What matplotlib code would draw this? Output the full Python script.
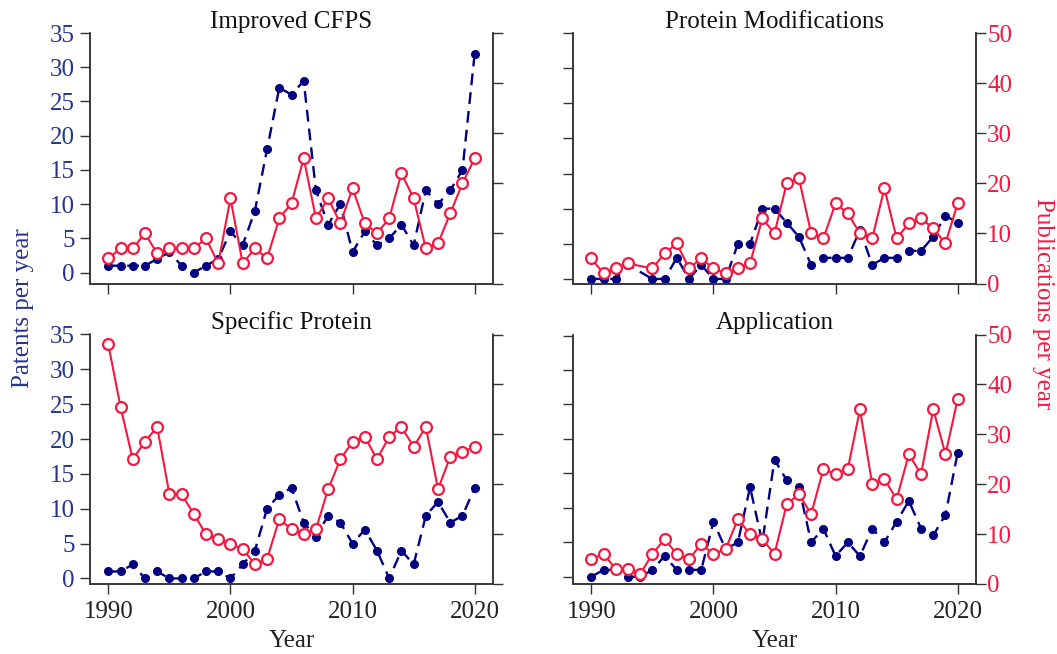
import matplotlib
matplotlib.use('Agg')
import matplotlib.pyplot as plt

plt.rcParams['font.family'] = ['Liberation Serif', 'DejaVu Serif']

# ---------------- data ----------------
years = list(range(1990, 2021))
years_mod = [y for y in years if y != 1994]

cfps_patents = [1, 1, 1, 1, 2, 3, 1, 0, 1, 2,
                6, 4, 9, 18, 27, 26, 28, 12, 7, 10,
                3, 6, 4, 5, 7, 4, 12, 10, 12, 15, 32]
cfps_pubs = [5, 7, 7, 10, 6, 7, 7, 7, 9, 4,
             17, 4, 7, 5, 13, 16, 25, 13, 17, 12,
             19, 12, 10, 13, 22, 17, 7, 8, 14, 20, 25]

mod_patents = [0, 0, 0, 2, 0, 0, 3, 0, 2,
               0, 0, 5, 5, 10, 10, 8, 6, 2, 3,
               3, 3, 7, 2, 3, 3, 4, 4, 6, 9, 8]
mod_pubs = [5, 2, 3, 4, 3, 6, 8, 3, 5,
            3, 2, 3, 4, 13, 10, 20, 21, 10, 9,
            16, 14, 10, 9, 19, 9, 12, 13, 11, 8, 16]

spec_patents = [1, 1, 2, 0, 1, 0, 0, 0, 1, 1,
                0, 2, 4, 10, 12, 13, 8, 6, 9, 8,
                5, 7, 4, 0, 4, 2, 9, 11, 8, 9, 13]
spec_pubs = [48, 35.5, 25, 28.5, 31.5, 18, 18, 14, 10, 9,
             8, 7, 4, 5, 13, 11, 10, 11, 19, 25,
             28.5, 29.5, 25, 29.5, 31.5, 27.5, 31.5, 19, 25.5, 26.5, 27.5]

app_patents = [0, 1, 1, 0, 0, 1, 3, 1, 1, 1,
               8, 4, 5, 13, 5, 17, 14, 13, 5, 7,
               3, 5, 3, 7, 5, 8, 11, 7, 6, 9, 18]
app_pubs = [5, 6, 3, 3, 2, 6, 9, 6, 5, 8,
            6, 7, 13, 10, 9, 6, 16, 18, 14, 23,
            22, 23, 35, 20, 21, 17, 26, 22, 35, 26, 37]

titles = ["Improved CFPS", "Protein Modifications", "Specific Protein", "Application"]
x_ticks = [1990, 2000, 2010, 2020]
left_ticks = [0, 5, 10, 15, 20, 25, 30, 35]
right_ticks = [0, 10, 20, 30, 40, 50]

# ---------------- style ----------------
W, H = 1057, 654
BLUE = '#000080'
BLUE_TXT = '#27348B'
RED = '#F5173F'
SPINE = '#333333'
FS = 18

fig = plt.figure(figsize=(W / 100, H / 100), dpi=100)


def rect(l, r, t, b):
    return [l / W, 1 - b / H, (r - l) / W, (b - t) / H]


panels = [
    dict(pos=rect(90, 493, 33, 283.5), x=years, pat=cfps_patents, pub=cfps_pubs,
         ylim=(-1.6, 34.95), title=titles[0], row=0, col=0),
    dict(pos=rect(573, 976, 33, 283.5), x=years_mod, pat=mod_patents, pub=mod_pubs,
         ylim=(-0.65, 34.9), title=titles[1], row=0, col=1),
    dict(pos=rect(90, 493, 334.5, 584), x=years, pat=spec_patents, pub=spec_pubs,
         ylim=(-0.8, 34.85), title=titles[2], row=1, col=0),
    dict(pos=rect(573, 976, 334.5, 584), x=years, pat=app_patents, pub=app_pubs,
         ylim=(-1.05, 35.15), title=titles[3], row=1, col=1),
]

for p in panels:
    ax = fig.add_axes(p['pos'])
    ax2 = ax.twinx()
    ax.set_zorder(1)
    ax2.set_zorder(2)
    ax.patch.set_visible(False)
    ax2.patch.set_visible(False)

    ax.plot(p['x'], p['pat'], linestyle=(0, (5, 3)), color=BLUE, lw=1.7,
            marker='o', ms=5.5, mfc=BLUE, mec=BLUE)
    ax2.plot(p['x'], p['pub'], linestyle='-', color=RED, lw=1.5,
             marker='o', ms=7.8, mfc='white', mec=RED, mew=1.6)

    ax.set_xlim(1988.5, 2021.5)
    ax.set_ylim(*p['ylim'])
    ax2.set_ylim(0, 50)
    ax.set_xticks(x_ticks)
    ax.set_yticks(left_ticks)
    ax2.set_yticks(right_ticks)

    for a in (ax, ax2):
        a.spines['top'].set_visible(False)
        for s in ('left', 'right', 'bottom'):
            a.spines[s].set_color(SPINE)
            a.spines[s].set_linewidth(1.1)
        a.tick_params(direction='out', length=7, width=1.0, color=SPINE)

    ax.tick_params(axis='y', labelcolor=BLUE_TXT, labelsize=FS, pad=4)
    ax2.tick_params(axis='y', labelcolor=RED, labelsize=FS, pad=1)
    ax.tick_params(axis='x', labelsize=FS, labelcolor='#222222', pad=5)

    if p['col'] == 1:
        ax.tick_params(axis='y', labelleft=False)
    else:
        ax2.tick_params(axis='y', labelright=False)
    if p['row'] == 0:
        ax.tick_params(axis='x', labelbottom=False)
    else:
        bb = p['pos']
        fig.text(bb[0] + bb[2] / 2, 1 - 647 / H, 'Year', fontsize=FS,
                 color='#222222', ha='center', va='baseline')

    ax.set_title(p['title'], fontsize=FS, color='#111111',
                 pad=2 if p['row'] == 0 else -1)

fig.text(23 / W, 1 - 308 / H, 'Patents per year', rotation=90, color=BLUE_TXT,
         fontsize=FS, ha='center', va='center')
fig.text(1043 / W, 1 - 304 / H, 'Publications per year', rotation=270, color=RED,
         fontsize=FS, ha='center', va='center')

fig.savefig('out.png', dpi=100)
